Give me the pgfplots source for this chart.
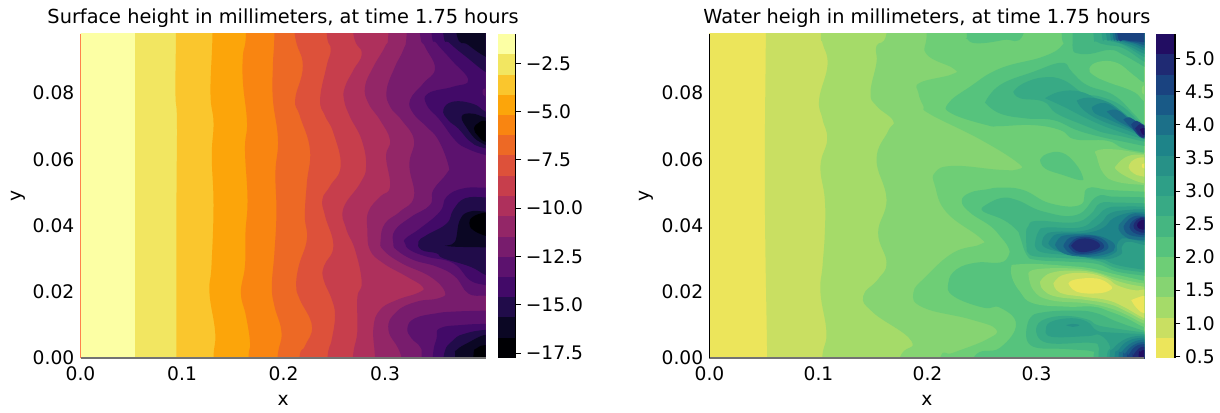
\documentclass[border=0pt]{standalone}
\usepackage{pgfplots}
\pgfplotsset{compat=1.18}
\usepackage{fontspec}
\setmainfont{DejaVu Sans}
\definecolor{i0}{HTML}{FCFFA4}\definecolor{i1}{HTML}{F2E661}\definecolor{i2}{HTML}{FAC62D}\definecolor{i3}{HTML}{FCA50A}
\definecolor{i4}{HTML}{F98511}\definecolor{i5}{HTML}{ED6925}\definecolor{i6}{HTML}{DD513A}\definecolor{i7}{HTML}{C73E4C}
\definecolor{i8}{HTML}{AE305C}\definecolor{i9}{HTML}{932667}\definecolor{i10}{HTML}{781C6D}\definecolor{i11}{HTML}{5C126E}
\definecolor{i12}{HTML}{420A68}\definecolor{i13}{HTML}{210C4A}\definecolor{i14}{HTML}{0B0724}\definecolor{i15}{HTML}{000004}
\definecolor{v0}{HTML}{ECE55B}\definecolor{v1}{HTML}{C9DF62}\definecolor{v2}{HTML}{A5DB69}\definecolor{v3}{HTML}{86D472}
\definecolor{v4}{HTML}{6ECE76}\definecolor{v5}{HTML}{56C37D}\definecolor{v6}{HTML}{45B681}\definecolor{v7}{HTML}{38AA85}
\definecolor{v8}{HTML}{2E9F87}\definecolor{v9}{HTML}{279187}\definecolor{v10}{HTML}{1E8489}\definecolor{v11}{HTML}{1C7089}
\definecolor{v12}{HTML}{195A87}\definecolor{v13}{HTML}{1A4380}\definecolor{v14}{HTML}{1F2A73}\definecolor{v15}{HTML}{220D62}
\newcommand{\lv}[2]{\addplot[fill=#1,draw=none,smooth,tension=.75] coordinates {#2};}
\newcommand{\cb}[3]{\addplot[fill=#1,draw=none] coordinates {(0,#2)(1,#2)(1,#3)(0,#3)};}
\pgfplotsset{
  main/.style={scale only axis,height=243pt,ymin=0,ymax=0.0978,xmin=0,xmax=0.399,
    axis lines=left,axis line style={-,line width=1pt,color=black!55},
    axis on top,tick style={draw=none},scaled ticks=false,
    xtick={0,0.1,0.2,0.3},xticklabels={0.0,0.1,0.2,0.3},
    ytick={0,0.02,0.04,0.06,0.08},yticklabels={0.00,0.02,0.04,0.06,0.08},
    tick label style={font=\fontsize{14}{14}\selectfont},
    xticklabel style={yshift=-1pt},yticklabel style={xshift=1pt},
    label style={font=\fontsize{14}{14}\selectfont},
    xlabel={x},ylabel={y},
    xlabel style={at={(axis description cs:0.5,0)},anchor=center,yshift=-32pt},
    title style={font=\fontsize{14.5}{14.5}\selectfont,at={(axis description cs:0.5,1)},anchor=base,yshift=1.5pt},
  },
  cbar/.style={scale only axis,height=243pt,xmin=0,xmax=1,xtick=\empty,
    axis y line=right,axis x line=none,axis line style={-,line width=1pt,color=black},axis on top,
    tick style={color=black,line width=0.6pt},major tick length=4pt,
    tick align=outside,
    yticklabel style={font=\fontsize{14}{14}\selectfont},
  },
}
\begin{document}
\begin{tikzpicture}[x=1pt,y=1pt]
\useasboundingbox (0,0) rectangle (915,309);
% ---------- left panel
\begin{axis}[main,at={(60.4pt,40.5pt)},anchor=south west,width=303.75pt,
  y axis line style={color=orange!60!red!70!white,line width=0.8pt},
  ylabel style={at={(axis description cs:-0.154,0.5)},anchor=center},
  title={Surface height in millimeters, at time 1.75 hours}]
\addplot[fill=i0,draw=none] coordinates {(-.01,-.01)(.45,-.01)(.45,.11)(-.01,.11)};
\addplot[fill=i1,draw=none] coordinates {(.054,-.01)(.45,-.01)(.45,.11)(.054,.11)};
\lv{i2}{(.094,.115)(.094,.0978)(.0935,.0801)(.095,.0711)(.0945,.0459)(.0945,.0)(.0945,-.015)(.45,-.015)(.45,.115)}
\lv{i3}{(.130,.115)(.130,.0978)(.128,.0801)(.131,.0711)(.1293,.0610)(.131,.0459)(.129,.0278)(.127,.0197)(.1327,.0076)(.131,0)(.131,-.015)(.45,-.015)(.45,.115)}
\lv{i4}{(.163,.115)(.163,.0978)(.160,.0912)(.160,.0831)(.164,.0711)(.162,.0630)(.1645,.0479)(.1625,.0378)(.162,.0278)(.158,.0197)(.163,.0127)(.167,.0046)(.1655,0)(.165,-.015)(.45,-.015)(.45,.115)}
\lv{i5}{(.191,.115)(.191,.0978)(.1895,.0882)(.1895,.0781)(.1945,.0660)(.192,.0560)(.193,.0439)(.191,.0318)(.1885,.0217)(.191,.0157)(.198,.0076)(.194,0)(.192,-.015)(.45,-.015)(.45,.115)}
\lv{i6}{(.208,.115)(.211,.0978)(.219,.0882)(.2115,.0781)(.216,.0731)(.226,.0630)(.223,.0529)(.221,.0429)(.223,.0358)(.215,.0278)(.2125,.0217)(.216,.0177)(.228,.0097)(.221,.0036)(.2155,0)(.212,-.015)(.45,-.015)(.45,.115)}
\lv{i7}{(.2425,.115)(.2425,.0982)(.2465,.0932)(.2425,.0882)(.2360,.0781)(.2409,.0731)(.2491,.0680)(.2563,.0580)(.2458,.0519)(.2383,.0479)(.2409,.0429)(.2491,.0338)(.2399,.0278)(.2393,.0238)(.2475,.0177)(.2507,.0127)(.2475,.0056)(.2432,0)(.241,-.015)(.45,-.015)(.45,.115)}
\lv{i8}{(.265,.115)(.2688,.0978)(.2770,.0920)(.2688,.0869)(.2606,.0819)(.2596,.0779)(.2655,.0728)(.2770,.0658)(.2813,.0578)(.2754,.0527)(.2590,.0452)(.2616,.0391)(.2705,.0326)(.2770,.0230)(.2728,.0185)(.2728,.0105)(.2721,.0064)(.2682,0)(.265,-.015)(.45,-.015)(.45,.115)}
\lv{i9}{(.305,.115)(.3033,.0978)(.3000,.0940)(.2885,.0879)(.2803,.0819)(.2836,.0769)(.2951,.0718)(.3049,.0658)(.3010,.0608)(.3049,.0517)(.2951,.0487)(.2836,.0442)(.2826,.0386)(.2852,.0326)(.2983,.0286)(.3213,.0246)(.3370,.0215)(.3328,.0197)(.3115,.0175)(.2951,.0145)(.2885,.0090)(.2901,0)(.292,-.015)(.45,-.015)(.45,.115)}
\lv{i10}{(.323,.115)(.3213,.0978)(.3180,.0930)(.3098,.0879)(.3016,.0809)(.3049,.0759)(.3164,.0718)(.3285,.0658)(.3239,.0583)(.3285,.0487)(.3147,.0442)(.2999,.0406)(.2957,.0356)(.2983,.0326)(.3164,.0286)(.3443,.0246)(.3590,.0200)(.3525,.0180)(.3311,.0170)(.3115,.0140)(.3033,.0085)(.3164,0)(.322,-.015)(.45,-.015)(.45,.115)}
\lv{i11}{(.33,.115)(.3344,.0978)(.3393,.0940)(.3492,.0874)(.3377,.0829)(.3246,.0779)(.3279,.0738)(.3410,.0698)(.3525,.0658)(.3623,.0583)(.3607,.0557)(.3475,.0507)(.3443,.0462)(.3262,.0427)(.3098,.0386)(.3082,.0346)(.3115,.0326)(.3279,.0296)(.3508,.0276)(.3689,.0246)(.3820,.0195)(.3987,.0188)(.41,.0185)(.45,.115)}
\lv{i11}{(.41,.0143)(.3987,.0143)(.3672,.0140)(.3508,.0135)(.3295,.0120)(.3220,.0090)(.3262,.0059)(.3344,.0034)(.3361,0)(.336,-.015)(.45,-.015)}
\lv{i12}{(.342,.115)(.3459,.0978)(.3508,.0950)(.3656,.0899)(.3820,.0839)(.3672,.0819)(.3426,.0799)(.3410,.0764)(.3541,.0718)(.3689,.0658)(.3803,.0633)(.3987,.0613)(.41,.061)(.45,.115)}
\lv{i12}{(.41,.0514)(.3987,.0514)(.3771,.0512)(.3607,.0487)(.3541,.0442)(.3344,.0391)(.3203,.0361)(.3197,.0346)(.3246,.0326)(.3410,.0306)(.3672,.0286)(.3836,.0235)(.3987,.0220)(.41,.021)}
\lv{i12}{(.41,.0103)(.3987,.0103)(.3771,.0100)(.3541,.0090)(.3508,.0059)(.3469,0)(.345,-.015)(.45,-.015)}
\lv{i11}{(.41,.0814)(.3987,.0814)(.3961,.0804)(.3987,.0789)(.41,.0789)}
\lv{i13}{(.354,.115)(.3574,.0978)(.3639,.0950)(.3820,.0904)(.3987,.0864)(.41,.085)(.45,.115)}
\lv{i13}{(.41,.0735)(.3987,.0744)(.3869,.0767)(.3672,.0774)(.3574,.0749)(.3623,.0718)(.3721,.0693)(.3820,.0658)(.3885,.0643)(.3987,.0633)(.41,.0625)}
\lv{i13}{(.41,.0485)(.3987,.0485)(.3787,.0482)(.3672,.0447)(.3607,.0406)(.3410,.0371)(.3328,.0351)(.3361,.0326)(.3508,.0316)(.3574,.0301)(.3836,.0276)(.3987,.0251)(.41,.024)}
\lv{i13}{(.41,.0085)(.3987,.0085)(.3803,.0075)(.3672,.0054)(.3574,0)(.356,-.015)(.45,-.015)}
\lv{i14}{(.367,.115)(.3705,.0978)(.3820,.0945)(.3987,.0910)(.41,.09)(.45,.115)}
\lv{i14}{(.41,.072)(.3987,.0726)(.3853,.0738)(.3754,.0728)(.3820,.0688)(.3902,.0658)(.3987,.0643)(.41,.0635)}
\lv{i14}{(.41,.0442)(.3987,.0442)(.3836,.0442)(.3738,.0417)(.3689,.0351)(.3607,.0338)(.3987,.0334)(.41,.0334)}
\lv{i14}{(.41,.0065)(.3987,.0070)(.3836,.0049)(.3705,.0024)(.3689,0)(.368,-.015)(.45,-.015)}
\lv{i15}{(.41,.0716)(.3987,.0716)(.3935,.0713)(.3876,.0693)(.3918,.0670)(.3987,.0653)(.41,.065)}
\lv{i15}{(.41,.0439)(.3987,.0439)(.3869,.0427)(.3830,.0407)(.3869,.0386)(.3987,.0369)(.41,.036)}
\lv{i15}{(.41,.0039)(.3987,.0039)(.3902,.0029)(.3869,0)(.386,-.015)(.45,-.015)}
\end{axis}
\begin{axis}[cbar,at={(373.3pt,40.5pt)},anchor=south west,width=13.5pt,ymin=-17.76,ymax=-0.98,
  ytick={-17.5,-15,-12.5,-10,-7.5,-5,-2.5},yticklabels={−17.5,−15.0,−12.5,−10.0,−7.5,−5.0,−2.5}]
\cb{i15}{-17.76}{-16.71}\cb{i14}{-16.71}{-15.66}\cb{i13}{-15.66}{-14.61}\cb{i12}{-14.61}{-13.56}
\cb{i11}{-13.56}{-12.52}\cb{i10}{-12.52}{-11.47}\cb{i9}{-11.47}{-10.42}\cb{i8}{-10.42}{-9.37}
\cb{i7}{-9.37}{-8.32}\cb{i6}{-8.32}{-7.27}\cb{i5}{-7.27}{-6.22}\cb{i4}{-6.22}{-5.17}
\cb{i3}{-5.17}{-4.13}\cb{i2}{-4.13}{-3.08}\cb{i1}{-3.08}{-2.03}\cb{i0}{-2.03}{-0.98}
\end{axis}
% ---------- right panel
\begin{axis}[main,at={(532.1pt,40.5pt)},anchor=south west,width=326.25pt,
  y axis line style={color=black,line width=0.8pt},
  ylabel style={at={(axis description cs:-0.146,0.5)},anchor=center},
  title={Water heigh in millimeters, at time 1.75 hours}]
\addplot[fill=v0,draw=none] coordinates {(-.01,-.01)(.45,-.01)(.45,.11)(-.01,.11)};
\lv{v1}{(.0517,.115)(.0517,.0978)(.0508,.05)(.0529,0)(.0529,-.015)(.45,-.015)(.45,.115)}
\lv{v2}{(.1021,.115)(.1021,.098)(.1037,.0950)(.1083,.0885)(.1006,.0781)(.1037,.0721)(.1080,.0660)(.1018,.0580)(.1058,.0479)(.1058,.0378)(.1037,.0278)(.1018,.0197)(.1073,.0076)(.1034,0)(.102,-.015)(.45,-.015)(.45,.115)}
\lv{v3}{(.165,.115)(.1624,.098)(.1532,.0942)(.1532,.0892)(.1477,.0801)(.1532,.0761)(.1685,.0716)(.1639,.0685)(.1532,.0600)(.1624,.0479)(.1547,.0378)(.1624,.0288)(.1547,.0238)(.1410,.0187)(.1502,.0137)(.1853,.0051)(.1746,0)(.168,-.015)(.45,-.015)(.45,.115)}
\lv{v4}{(.199,.115)(.1992,.098)(.1992,.0917)(.2237,.0874)(.2222,.0856)(.1931,.0831)(.1916,.0801)(.1962,.0761)(.2023,.0736)(.2482,.0660)(.2825,.0590)(.2834,.0570)(.2665,.0568)(.2237,.0580)(.2069,.0560)(.2069,.0519)(.2176,.0439)(.2482,.0363)(.2482,.0343)(.2237,.0318)(.1992,.0248)(.1870,.0197)(.1962,.0152)(.2390,.0117)(.2629,.0087)(.2543,.0056)(.2237,.0016)(.2115,0)(.205,-.015)(.45,-.015)(.45,.115)}
\lv{v5}{(.232,.115)(.2359,.0985)(.2359,.0965)(.2451,.0950)(.2696,.0960)(.2879,.0978)(.295,.115)}
\lv{v5}{(.323,.115)(.3231,.0978)(.3237,.0945)(.3063,.0910)(.2665,.0874)(.2390,.0819)(.2191,.0769)(.2221,.0738)(.2543,.0703)(.2665,.0700)(.2971,.0703)(.3216,.0688)(.3354,.0660)(.3644,.0656)(.3797,.0633)(.3990,.0620)(.41,.061)(.45,.115)}
\lv{v5}{(.3032,.0598)(.3093,.0616)(.3231,.0620)(.3354,.0588)(.3424,.0547)(.3399,.0537)(.3246,.0552)(.3078,.0572)(.3032,.0598)}
\lv{v5}{(.41,.0502)(.3990,.0502)(.3675,.0507)(.3467,.0512)(.3399,.0462)(.3124,.0467)(.2879,.0507)(.2665,.0514)(.2543,.0509)(.2390,.0499)(.2314,.0474)(.2390,.0439)(.2574,.0399)(.2665,.0368)(.2742,.0333)(.2742,.0308)(.2665,.0288)(.2451,.0288)(.2268,.0268)(.2191,.0227)(.2237,.0187)(.2512,.0152)(.2665,.0152)(.2812,.0102)(.2665,.0031)(.2421,0)(.235,-.015)(.45,-.015)}
\lv{v4}{(.41,.0831)(.3990,.0831)(.3889,.0854)(.3736,.0891)(.3568,.0894)(.3485,.0874)(.3522,.0854)(.3644,.0834)(.3889,.0804)(.3990,.0774)(.41,.076)}
\lv{v3}{(.41,.0824)(.399,.0824)(.3966,.0809)(.399,.0794)(.41,.0794)}
% upper centre
\lv{v6}{(.2527,.0771)(.2665,.0824)(.2971,.0864)(.3231,.0891)(.3323,.0864)(.3461,.0824)(.3705,.0794)(.3889,.0738)(.3990,.0703)(.41,.069)(.41,.0635)(.3990,.0640)(.3797,.0653)(.3583,.0668)(.3369,.0688)(.3155,.0718)(.2910,.0723)(.2665,.0738)(.2527,.0771)}
\lv{v7}{(.2787,.0804)(.2879,.0829)(.3063,.0847)(.3246,.0839)(.3430,.0799)(.3583,.0789)(.3767,.0764)(.3920,.0718)(.3990,.0683)(.41,.067)(.41,.065)(.3990,.0653)(.3797,.0668)(.3583,.0683)(.3430,.0703)(.3185,.0738)(.3063,.0774)(.2849,.0784)(.2787,.0804)}
\lv{v8}{(.3078,.0784)(.3216,.0804)(.3399,.0804)(.3583,.0777)(.3736,.0749)(.3889,.0708)(.3990,.0673)(.41,.066)(.41,.0655)(.3990,.0660)(.3675,.0693)(.3461,.0723)(.3246,.0759)(.3078,.0784)}
\lv{v9}{(.3369,.0777)(.3476,.0786)(.3644,.0774)(.3782,.0744)(.3889,.0713)(.399,.0683)(.41,.067)(.41,.066)(.399,.0666)(.3828,.0688)(.3583,.0718)(.3430,.0749)(.3369,.0777)}
\lv{v10}{(.3507,.0757)(.3583,.0769)(.3675,.0764)(.3797,.0733)(.3904,.0703)(.399,.0678)(.41,.067)(.41,.0665)(.399,.0670)(.3843,.0693)(.3644,.0723)(.3537,.0738)(.3507,.0757)}
\lv{v11}{(.3644,.0744)(.3736,.0749)(.3843,.0723)(.3935,.0698)(.399,.0683)(.41,.068)(.41,.066)(.399,.0668)(.3874,.0693)(.3736,.0718)(.3644,.0744)}
\lv{v12}{(.3797,.0720)(.3858,.0726)(.3935,.0708)(.399,.0693)(.41,.069)(.41,.066)(.399,.0666)(.3889,.0688)(.3797,.0720)}
\lv{v13}{(.3868,.0705)(.3920,.0716)(.399,.0703)(.41,.07)(.41,.066)(.399,.0662)(.3920,.0676)(.3868,.0705)}
\lv{v14}{(.3904,.0693)(.3950,.0706)(.399,.0700)(.41,.07)(.41,.066)(.399,.0666)(.3944,.0673)(.3904,.0693)}
\lv{v15}{(.3950,.0690)(.399,.0695)(.41,.0695)(.41,.067)(.399,.0673)(.3966,.0678)(.3950,.0690)}
% top right
\lv{v6}{(.333,.115)(.3332,.0978)(.3332,.0935)(.3369,.0920)(.3491,.0918)(.3675,.0930)(.3797,.0915)(.399,.0879)(.41,.086)(.45,.115)}
\lv{v7}{(.35,.115)(.3522,.0978)(.3552,.0955)(.3644,.0945)(.3797,.0935)(.399,.0894)(.41,.088)(.45,.115)}
\lv{v8}{(.357,.115)(.3598,.0978)(.3644,.0960)(.3797,.0945)(.399,.0908)(.41,.09)(.45,.115)}
\lv{v9}{(.36,.115)(.3638,.0978)(.3690,.0960)(.3843,.0942)(.399,.0918)(.41,.091)(.45,.115)}
\lv{v10}{(.365,.115)(.3675,.0978)(.3721,.0962)(.3874,.0945)(.399,.0928)(.41,.092)(.45,.115)}
\lv{v11}{(.367,.115)(.3699,.0978)(.3751,.0962)(.3904,.0948)(.399,.0936)(.41,.093)(.45,.115)}
\lv{v12}{(.37,.115)(.3721,.0978)(.3782,.0961)(.3920,.0951)(.399,.0944)(.41,.094)(.45,.115)}
\lv{v13}{(.372,.115)(.3742,.0978)(.3813,.0960)(.3935,.0955)(.399,.0953)(.41,.095)(.45,.115)}
% light nest right edge
\lv{v3}{(.41,.0616)(.399,.0616)(.3920,.0620)(.3705,.0630)(.3552,.0626)(.3552,.0608)(.3614,.0557)(.3736,.0532)(.399,.0522)(.41,.052)}
\lv{v2}{(.41,.0614)(.399,.0614)(.3843,.0610)(.3736,.0583)(.3736,.0567)(.3858,.0542)(.399,.0527)(.41,.0525)}
\lv{v1}{(.41,.0606)(.399,.0606)(.3904,.0601)(.3849,.0583)(.3858,.0567)(.3920,.0552)(.399,.0547)(.41,.0545)}
\lv{v0}{(.41,.0588)(.399,.0588)(.3966,.0580)(.399,.0572)(.41,.0572)}
% lower middle nest
\lv{v6}{(.2512,.0457)(.2665,.0482)(.2818,.0477)(.3063,.0442)(.3369,.0432)(.3552,.0487)(.3705,.0487)(.399,.0485)(.41,.0485)(.41,.024)(.399,.0248)(.3736,.0261)(.3552,.0284)(.3277,.0291)(.3002,.0296)(.2910,.0311)(.2849,.0366)(.2818,.0386)(.2696,.0417)(.2512,.0442)(.2512,.0457)}
\lv{v7}{(.2910,.0326)(.2904,.0376)(.2925,.0398)(.3002,.0414)(.3338,.0409)(.3491,.0432)(.3583,.0467)(.3736,.0469)(.399,.0467)(.41,.0467)(.41,.025)(.399,.0258)(.3736,.0271)(.3552,.0294)(.3277,.0301)(.3002,.0306)(.2925,.0316)(.2910,.0326)}
\lv{v8}{(.2986,.0346)(.3017,.0381)(.3093,.0394)(.3399,.0394)(.3537,.0422)(.3644,.0452)(.3797,.0457)(.399,.0457)(.41,.0457)(.41,.026)(.399,.0266)(.3736,.0281)(.3552,.0304)(.3277,.0311)(.3032,.0321)(.2986,.0346)}
\lv{v9}{(.3048,.0346)(.3078,.0371)(.3170,.0381)(.3430,.0384)(.3583,.0406)(.3675,.0437)(.3843,.0447)(.399,.0449)(.41,.045)(.41,.034)(.399,.0341)(.3843,.0351)(.3782,.0336)(.3767,.0311)(.3583,.0298)(.3277,.0316)(.3093,.0331)(.3048,.0346)}
\lv{v10}{(.3109,.0346)(.3139,.0363)(.3216,.0375)(.3461,.0378)(.3614,.0394)(.3705,.0422)(.3858,.0439)(.399,.0441)(.41,.0441)(.41,.035)(.399,.0351)(.3874,.0358)(.3782,.0361)(.3736,.0341)(.3721,.0318)(.3552,.0303)(.3277,.0316)(.3155,.0330)(.3109,.0346)}
\lv{v11}{(.3170,.0341)(.3201,.0360)(.3277,.0371)(.3491,.0372)(.3644,.0360)(.3721,.0336)(.3644,.0314)(.3430,.0306)(.3246,.0316)(.3170,.0341)}
\lv{v11}{(.41,.0435)(.399,.0435)(.3874,.0435)(.3782,.0412)(.3751,.0391)(.3813,.0366)(.3889,.0358)(.399,.0356)(.41,.0356)}
\lv{v12}{(.3246,.0338)(.3277,.0356)(.3354,.0367)(.3552,.0367)(.3660,.0338)(.3583,.0318)(.3430,.0311)(.3308,.0316)(.3246,.0338)}
\lv{v12}{(.41,.0429)(.399,.0429)(.3889,.0427)(.3813,.0406)(.3803,.0388)(.3858,.0371)(.399,.0364)(.41,.036)}
\lv{v13}{(.3292,.0338)(.3369,.0362)(.3522,.0362)(.3620,.0338)(.3537,.0320)(.3369,.0316)(.3292,.0338)}
\lv{v13}{(.41,.0425)(.399,.0425)(.3920,.0422)(.3858,.0404)(.3865,.0386)(.3920,.0374)(.399,.0371)(.41,.0371)}
\lv{v14}{(.3317,.0339)(.3384,.0358)(.3507,.0358)(.3583,.0339)(.3507,.0324)(.3384,.0321)(.3317,.0339)}
\lv{v14}{(.41,.0424)(.399,.0424)(.3944,.0421)(.3898,.0408)(.3895,.0391)(.3944,.0381)(.399,.0378)(.41,.0378)}
\lv{v15}{(.41,.0417)(.399,.0417)(.3950,.0414)(.3926,.0406)(.3929,.0394)(.3966,.0388)(.399,.0388)(.41,.0388)}
% yellow tongue
\lv{v4}{(.2772,.0281)(.2971,.0284)(.3277,.0278)(.3491,.0271)(.3705,.0254)(.3889,.0240)(.399,.0233)(.41,.023)(.41,.009)(.399,.0093)(.3828,.0120)(.3675,.0140)(.3522,.0155)(.3277,.0155)(.2971,.0165)(.2849,.0200)(.2772,.0246)(.2772,.0281)}
\lv{v3}{(.2925,.0256)(.3002,.0268)(.3277,.0271)(.3491,.0264)(.3705,.0244)(.3889,.0230)(.399,.0225)(.41,.022)(.41,.01)(.399,.0103)(.3828,.0130)(.3675,.0150)(.3461,.0165)(.3124,.0175)(.2971,.0205)(.2925,.0256)}
\lv{v2}{(.3032,.0230)(.3124,.0256)(.3338,.0264)(.3552,.0256)(.3736,.0233)(.3889,.0220)(.399,.0215)(.41,.0215)(.41,.011)(.399,.0113)(.3828,.0140)(.3675,.0162)(.3461,.0175)(.3185,.0185)(.3063,.0205)(.3032,.0230)}
\lv{v1}{(.3155,.0225)(.3246,.0251)(.3461,.0256)(.3644,.0240)(.3736,.0220)(.3889,.0205)(.399,.0207)(.41,.021)(.41,.0115)(.399,.0120)(.3797,.0155)(.3644,.0175)(.3430,.0185)(.3216,.0197)(.3155,.0225)}
\lv{v0}{(.3292,.0225)(.3354,.0237)(.3552,.0240)(.3675,.0220)(.3675,.0205)(.3552,.0195)(.3369,.0200)(.3292,.0225)}
\lv{v0}{(.3868,.0175)(.3950,.0185)(.399,.0187)(.41,.0187)(.41,.0135)(.399,.0135)(.3920,.0150)(.3868,.0175)}
% lower nest
\lv{v6}{(.2904,.0074)(.2940,.0120)(.3063,.0138)(.3369,.0143)(.3552,.0135)(.3736,.0110)(.399,.0082)(.41,.0078)(.45,-.015)(.3522,-.015)(.3522,0)(.3522,.0019)(.3277,.0027)(.2971,.0034)(.2904,.0074)}
\lv{v7}{(.2995,.0085)(.3048,.0113)(.3246,.0127)(.3461,.0117)(.3552,.0100)(.3705,.0090)(.399,.0077)(.41,.0075)(.45,-.015)(.3568,-.015)(.3568,0)(.3568,.0034)(.3491,.0046)(.3093,.0046)(.2995,.0085)}
\lv{v8}{(.3087,.0085)(.3124,.0108)(.3308,.0120)(.3461,.0110)(.3552,.0083)(.3675,.0077)(.399,.0072)(.41,.007)(.45,-.015)(.3644,-.015)(.3644,0)(.3675,.0034)(.3583,.0069)(.3461,.0066)(.3139,.0064)(.3087,.0085)}
\lv{v9}{(.3271,.0099)(.3332,.0103)(.3393,.0099)(.3332,.0094)(.3271,.0099)}
\lv{v9}{(.41,.0066)(.399,.0068)(.3828,.0059)(.3705,.0029)(.3669,0)(.366,-.015)(.45,-.015)}
\lv{v10}{(.41,.006)(.399,.0062)(.3843,.0052)(.3751,.0024)(.3715,0)(.37,-.015)(.45,-.015)}
\lv{v11}{(.41,.0054)(.399,.0056)(.3874,.0046)(.3782,.0019)(.3751,0)(.374,-.015)(.45,-.015)}
\lv{v12}{(.41,.0047)(.399,.0049)(.3889,.0039)(.3813,.0014)(.3791,0)(.378,-.015)(.45,-.015)}
\lv{v13}{(.41,.004)(.399,.0042)(.3904,.0034)(.3843,.0009)(.3828,0)(.382,-.015)(.45,-.015)}
\lv{v14}{(.41,.0032)(.399,.0034)(.3935,.0028)(.3889,.0009)(.3880,0)(.387,-.015)(.45,-.015)}
\lv{v15}{(.41,.0022)(.399,.0024)(.3956,.0019)(.3935,0)(.393,-.015)(.45,-.015)}
\end{axis}
\begin{axis}[cbar,at={(867pt,40.5pt)},anchor=south west,width=14.25pt,ymin=0.475,ymax=5.371,
  ytick={0.5,1,1.5,2,2.5,3,3.5,4,4.5,5},yticklabels={0.5,1.0,1.5,2.0,2.5,3.0,3.5,4.0,4.5,5.0}]
\cb{v0}{.475}{.781}\cb{v1}{.781}{1.087}\cb{v2}{1.087}{1.393}\cb{v3}{1.393}{1.699}
\cb{v4}{1.699}{2.005}\cb{v5}{2.005}{2.311}\cb{v6}{2.311}{2.617}\cb{v7}{2.617}{2.923}
\cb{v8}{2.923}{3.229}\cb{v9}{3.229}{3.535}\cb{v10}{3.535}{3.841}\cb{v11}{3.841}{4.147}
\cb{v12}{4.147}{4.453}\cb{v13}{4.453}{4.759}\cb{v14}{4.759}{5.065}\cb{v15}{5.065}{5.371}
\end{axis}
\end{tikzpicture}
\end{document}
